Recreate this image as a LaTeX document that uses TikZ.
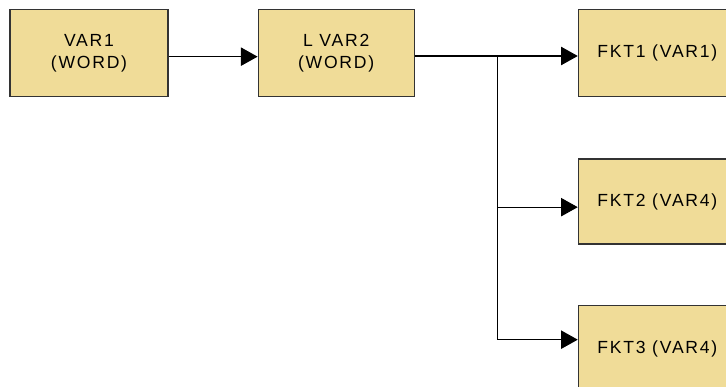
\documentclass[tikz,border=0pt]{standalone}
\usepackage{fontspec}
\setmainfont{Liberation Sans}[LetterSpace=10]
\usetikzlibrary{arrows.meta, positioning, calc}

\definecolor{boxfill}{RGB}{240,220,152}

\begin{document}
\begin{tikzpicture}[every node/.style={font=\fontsize{15}{18.7}\selectfont},
    blk/.style={draw=black!80, line width=1pt, fill=boxfill, align=center, inner sep=0pt,
      minimum width=4.74cm, minimum height=2.61cm},
    arr/.style={line width=0.9pt, -{Triangle[length=0.5cm, width=0.55cm]}}]
        \useasboundingbox (0,0) rectangle (21.78,-11.61);
        \node[blk] (v1) at (2.67,-1.6) {VAR1\\(WORD)};
        \node[blk, minimum width=4.68cm, right=2.67cm of v1] (v2) {L VAR2\\(WORD)};
        \node[blk, right=4.89cm of v2] (f1) {FKT1 (VAR1)};
        \node[blk, minimum height=2.55cm, below=1.83cm of f1] (f2) {FKT2 (VAR4)};
        \node[blk, below=1.8cm of f2] (f3) {FKT3 (VAR4)};
        \coordinate (br) at ($([yshift=-0.08cm]v2.east)!0.51!([yshift=-0.08cm]f1.west)$);
        \draw[arr] ([yshift=-0.1cm]v1.east) -- ([yshift=-0.1cm]v2.west);
        \draw[arr] ([yshift=-0.08cm]v2.east) -- ([yshift=-0.08cm]f1.west);
        \draw[arr] (br) |- ([yshift=-0.17cm]f2.west);
        \draw[arr] (br) |- ([yshift=0.27cm]f3.west);
      \end{tikzpicture}
\end{document}
